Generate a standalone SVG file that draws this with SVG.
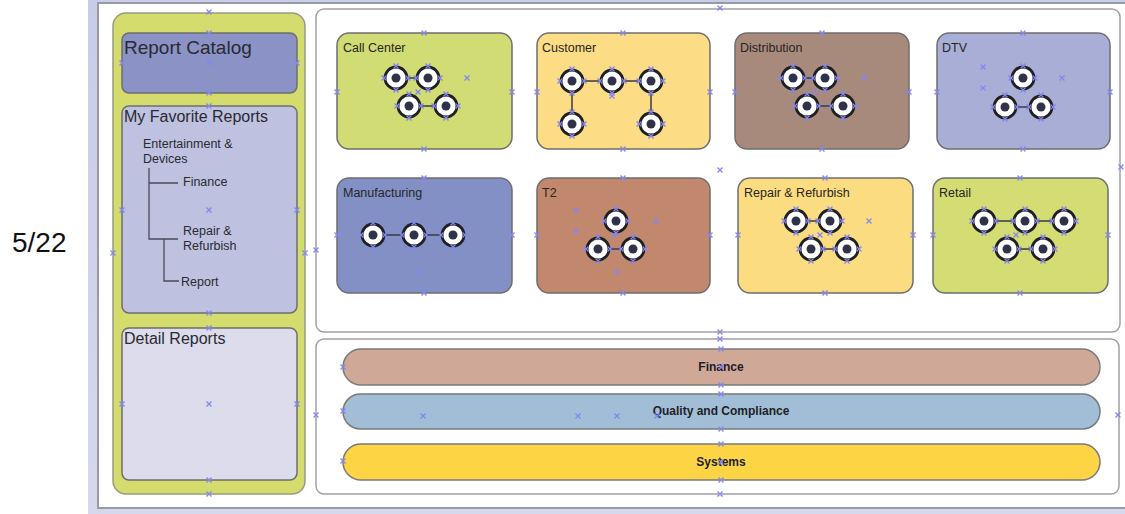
<svg xmlns="http://www.w3.org/2000/svg" xmlns:xlink="http://www.w3.org/1999/xlink" width="1125" height="514" viewBox="0 0 1125 514">
  <defs>
    <style>
      text { font-family: "Liberation Sans", Arial, sans-serif; fill: #2a2a30; }
      .frame { fill: #ffffff; stroke: #9a9aa4; stroke-width: 2; }
      .tile { stroke: #6e6e6e; stroke-width: 1.5; }
      .side { stroke: #6e6e70; stroke-width: 1.5; }
      .band { stroke: #7a7a7a; stroke-width: 1.5; }
      .title { font-size: 12.5px; fill: #26261e; }
      .bandtext { font-size: 12px; font-weight: bold; text-anchor: middle; fill: #1e1e28; }
      .tree { fill: none; stroke: #4a4a58; stroke-width: 1.3; }
      .wire { fill: none; stroke: #3a3a44; stroke-width: 1.5; }
      .ring { fill: #ffffff; stroke: #202024; stroke-width: 2.8; }
      .dot { fill: #30324a; }
      .hnd { stroke: #8486f2; stroke-width: 1.3; fill: none; }
    </style>
    <linearGradient id="bg" x1="0" y1="0" x2="0" y2="1">
      <stop offset="0" stop-color="#c9cce6"/>
      <stop offset="1" stop-color="#d6d8ee"/>
    </linearGradient>
    <!-- node icon: ring with a dark centre -->
    <g id="node">
      <circle class="ring" r="11"/>
      <circle class="dot" r="4.5"/>
    </g>
    <!-- selection handle cross -->
    <path id="h" class="hnd" d="M-2.5,-2.5 L2.5,2.5 M-2.5,2.5 L2.5,-2.5"/>
    <!-- handles around a node icon -->
    <path id="nh" class="hnd" d="M-14.5,-2.5 l5,5 m0,-5 l-5,5 M9.5,-2.5 l5,5 m0,-5 l-5,5 M-2.5,-14.5 l5,5 m0,-5 l-5,5 M-2.5,9.5 l5,5 m0,-5 l-5,5"/>
  </defs>

  <!-- page background -->
  <rect x="0" y="0" width="1125" height="514" fill="#ffffff"/>
  <rect x="88" y="0" width="1037" height="514" fill="url(#bg)"/>
  <rect x="98" y="3" width="1040" height="505" class="frame"/>

  <text x="12" y="252" style="font-size:28px;fill:#111">5/22</text>

  <!-- left column -->
  <g id="sidebar">
    <rect x="113" y="13" width="192" height="481" rx="13" fill="#d4dc6e" stroke="#9a9a80" stroke-width="1.5"/>
  </g>
  <g id="report-catalog">
    <rect x="122" y="33" width="175" height="60" rx="7" fill="#8a92c6" class="side"/>
    <text x="124" y="54" style="font-size:19px">Report Catalog</text>
  </g>
  <g id="my-favorite-reports">
    <rect x="122" y="106" width="175" height="207" rx="7" fill="#bec2e0" class="side"/>
    <text x="124" y="122" style="font-size:16px">My Favorite Reports</text>
    <text x="143" y="148" style="font-size:12.5px">Entertainment &amp;</text>
    <text x="143" y="163" style="font-size:12.5px">Devices</text>
    <text x="183" y="186" style="font-size:12.5px">Finance</text>
    <text x="183" y="235" style="font-size:12.5px">Repair &amp;</text>
    <text x="183" y="250" style="font-size:12.5px">Refurbish</text>
    <text x="181" y="286" style="font-size:12.5px">Report</text>
  </g>
  <g id="detail-reports">
    <rect x="122" y="328" width="175" height="152" rx="7" fill="#dcdcec" class="side"/>
    <text x="124" y="344" style="font-size:16px">Detail Reports</text>
  </g>

  <!-- content panels -->
  <g id="domain-panel">
    <rect x="316" y="9" width="804" height="323" rx="8" fill="#ffffff" stroke="#a0a0a8" stroke-width="1.5"/>
  </g>
  <g id="shared-panel">
    <rect x="316" y="339" width="803" height="155" rx="8" fill="#ffffff" stroke="#a0a0a8" stroke-width="1.5"/>
  </g>

  <!-- domain tiles -->
  <g id="call-center">
    <rect x="337" y="33" width="175" height="116" rx="12" fill="#d2dc74" class="tile"/>
    <text x="343" y="52" class="title">Call Center</text>
  </g>
  <g id="customer">
    <rect x="537" y="33" width="173" height="116" rx="12" fill="#fcdc84" class="tile"/>
    <text x="542" y="52" class="title">Customer</text>
  </g>
  <g id="distribution">
    <rect x="735" y="33" width="174" height="116" rx="12" fill="#a88a7c" class="tile"/>
    <text x="740" y="52" class="title">Distribution</text>
  </g>
  <g id="dtv">
    <rect x="937" y="33" width="173" height="116" rx="12" fill="#a9aed6" class="tile"/>
    <text x="942" y="52" class="title">DTV</text>
  </g>
  <g id="manufacturing">
    <rect x="337" y="178" width="175" height="115" rx="12" fill="#8290c6" class="tile"/>
    <text x="343" y="197" class="title">Manufacturing</text>
  </g>
  <g id="t2">
    <rect x="537" y="178" width="173" height="115" rx="12" fill="#c2886e" class="tile"/>
    <text x="542" y="197" class="title">T2</text>
  </g>
  <g id="repair-refurbish">
    <rect x="738" y="178" width="175" height="115" rx="12" fill="#fcdc80" class="tile"/>
    <text x="744" y="197" class="title">Repair &amp; Refurbish</text>
  </g>
  <g id="retail">
    <rect x="933" y="178" width="175" height="115" rx="12" fill="#d4dc74" class="tile"/>
    <text x="939" y="197" class="title">Retail</text>
  </g>

  <!-- shared bands -->
  <g id="finance">
    <rect x="343" y="349" width="757" height="36" rx="18" fill="#d0a898" class="band"/>
    <text x="721" y="371" class="bandtext">Finance</text>
  </g>
  <g id="quality-and-compliance">
    <rect x="343" y="394" width="757" height="35" rx="17.5" fill="#a2bed6" class="band"/>
    <text x="721" y="415" class="bandtext">Quality and Compliance</text>
  </g>
  <g id="systems">
    <rect x="343" y="444" width="757" height="36" rx="18" fill="#fcd444" class="band"/>
    <text x="721" y="466" class="bandtext">Systems</text>
  </g>

  <!-- connectors -->
  <g id="connectors">
    <path class="tree" d="M149,168 V239 H178 M149,183 H178 M164,239 V281 H179"/>
    <!-- Call Center -->
    <path class="wire" d="M396,78 H428 M409,106 H446"/>
    <!-- Customer -->
    <path class="wire" d="M572,124 V81 H651 V124"/>
    <!-- Distribution -->
    <path class="wire" d="M793,78 H825 M807,106 H843"/>
    <!-- DTV -->
    <path class="wire" d="M1005,107 H1041"/>
    <!-- Manufacturing -->
    <path class="wire" d="M373,235 H453"/>
    <!-- T2 -->
    <path class="wire" d="M598,249 H633"/>
    <!-- Repair & Refurbish -->
    <path class="wire" d="M796,221 H830 M811,249 H847"/>
    <!-- Retail -->
    <path class="wire" d="M984,221 H1064 M1007,249 H1043"/>
  </g>

  <!-- node icons -->
  <g id="nodes">
    <use href="#node" x="396" y="78"/><use href="#node" x="428" y="78"/>
    <use href="#node" x="409" y="106"/><use href="#node" x="446" y="106"/>

    <use href="#node" x="572" y="81"/><use href="#node" x="612" y="81"/>
    <use href="#node" x="651" y="81"/><use href="#node" x="572" y="124"/>
    <use href="#node" x="651" y="124"/>

    <use href="#node" x="793" y="78"/><use href="#node" x="825" y="78"/>
    <use href="#node" x="807" y="106"/><use href="#node" x="843" y="106"/>

    <use href="#node" x="1023" y="78"/><use href="#node" x="1005" y="107"/>
    <use href="#node" x="1041" y="107"/>

    <use href="#node" x="373" y="235"/><use href="#node" x="414" y="235"/>
    <use href="#node" x="453" y="235"/>

    <use href="#node" x="616" y="221"/><use href="#node" x="598" y="249"/>
    <use href="#node" x="633" y="249"/>

    <use href="#node" x="796" y="221"/><use href="#node" x="830" y="221"/>
    <use href="#node" x="811" y="249"/><use href="#node" x="847" y="249"/>

    <use href="#node" x="984" y="221"/><use href="#node" x="1025" y="221"/>
    <use href="#node" x="1064" y="221"/><use href="#node" x="1007" y="249"/>
    <use href="#node" x="1043" y="249"/>
  </g>

  <!-- selection handles -->
  <g id="handles">
    <use href="#nh" x="396" y="78"/><use href="#nh" x="428" y="78"/>
    <use href="#nh" x="409" y="106"/><use href="#nh" x="446" y="106"/>
    <use href="#nh" x="572" y="81"/><use href="#nh" x="612" y="81"/>
    <use href="#nh" x="651" y="81"/><use href="#nh" x="572" y="124"/>
    <use href="#nh" x="651" y="124"/>
    <use href="#nh" x="793" y="78"/><use href="#nh" x="825" y="78"/>
    <use href="#nh" x="807" y="106"/><use href="#nh" x="843" y="106"/>
    <use href="#nh" x="1023" y="78"/><use href="#nh" x="1005" y="107"/>
    <use href="#nh" x="1041" y="107"/>
    <use href="#nh" x="373" y="235"/><use href="#nh" x="414" y="235"/>
    <use href="#nh" x="453" y="235"/>
    <use href="#nh" x="616" y="221"/><use href="#nh" x="598" y="249"/>
    <use href="#nh" x="633" y="249"/>
    <use href="#nh" x="796" y="221"/><use href="#nh" x="830" y="221"/>
    <use href="#nh" x="811" y="249"/><use href="#nh" x="847" y="249"/>
    <use href="#nh" x="984" y="221"/><use href="#nh" x="1025" y="221"/>
    <use href="#nh" x="1064" y="221"/><use href="#nh" x="1007" y="249"/>
    <use href="#nh" x="1043" y="249"/>

    <use href="#h" x="209" y="12"/><use href="#h" x="209" y="494"/>
    <use href="#h" x="113" y="253"/><use href="#h" x="305" y="253"/>
    <use href="#h" x="209" y="33"/><use href="#h" x="209" y="93"/>
    <use href="#h" x="122" y="63"/><use href="#h" x="297" y="63"/><use href="#h" x="209" y="63"/>
    <use href="#h" x="209" y="106"/><use href="#h" x="209" y="313"/>
    <use href="#h" x="122" y="210"/><use href="#h" x="297" y="210"/><use href="#h" x="209" y="210"/>
    <use href="#h" x="209" y="328"/><use href="#h" x="209" y="480"/>
    <use href="#h" x="122" y="404"/><use href="#h" x="297" y="404"/><use href="#h" x="209" y="404"/>

    <use href="#h" x="720" y="8"/><use href="#h" x="720" y="170"/>
    <use href="#h" x="316" y="250"/><use href="#h" x="1121" y="167"/>
    <use href="#h" x="720" y="332"/><use href="#h" x="720" y="339"/>
    <use href="#h" x="316" y="415"/><use href="#h" x="1118" y="415"/>
    <use href="#h" x="720" y="494"/>

    <use href="#h" x="424" y="33"/><use href="#h" x="424" y="149"/>
    <use href="#h" x="337" y="92"/><use href="#h" x="512" y="92"/>
    <use href="#h" x="623" y="33"/><use href="#h" x="623" y="149"/>
    <use href="#h" x="537" y="92"/><use href="#h" x="710" y="92"/>
    <use href="#h" x="822" y="33"/><use href="#h" x="822" y="149"/>
    <use href="#h" x="735" y="92"/><use href="#h" x="909" y="92"/>
    <use href="#h" x="1023" y="33"/><use href="#h" x="1023" y="149"/>
    <use href="#h" x="937" y="92"/><use href="#h" x="1110" y="92"/>
    <use href="#h" x="424" y="178"/><use href="#h" x="424" y="293"/>
    <use href="#h" x="337" y="235"/><use href="#h" x="512" y="235"/>
    <use href="#h" x="623" y="178"/><use href="#h" x="623" y="293"/>
    <use href="#h" x="537" y="235"/><use href="#h" x="710" y="235"/>
    <use href="#h" x="825" y="178"/><use href="#h" x="825" y="293"/>
    <use href="#h" x="738" y="235"/><use href="#h" x="913" y="235"/>
    <use href="#h" x="1020" y="178"/><use href="#h" x="1020" y="293"/>
    <use href="#h" x="933" y="235"/><use href="#h" x="1108" y="235"/>

    <use href="#h" x="467" y="78"/><use href="#h" x="864" y="78"/>
    <use href="#h" x="983" y="67"/><use href="#h" x="983" y="88"/><use href="#h" x="1062" y="78"/>
    <use href="#h" x="419" y="272"/>
    <use href="#h" x="576" y="210"/><use href="#h" x="576" y="231"/><use href="#h" x="656" y="221"/>
    <use href="#h" x="617" y="272"/>
    <use href="#h" x="869" y="221"/>
    <use href="#h" x="612" y="96"/><use href="#h" x="418" y="92"/><use href="#h" x="815" y="92"/>
    <use href="#h" x="820" y="235"/><use href="#h" x="1016" y="235"/><use href="#h" x="614" y="235"/>

    <use href="#h" x="343" y="367"/><use href="#h" x="343" y="411"/><use href="#h" x="343" y="461"/>
    <use href="#h" x="721" y="349"/><use href="#h" x="721" y="367"/><use href="#h" x="721" y="385"/>
    <use href="#h" x="721" y="394"/><use href="#h" x="721" y="429"/>
    <use href="#h" x="721" y="444"/><use href="#h" x="721" y="462"/><use href="#h" x="721" y="480"/>
    <use href="#h" x="423" y="416"/><use href="#h" x="578" y="416"/><use href="#h" x="617" y="416"/><use href="#h" x="657" y="416"/>
  </g>
</svg>
